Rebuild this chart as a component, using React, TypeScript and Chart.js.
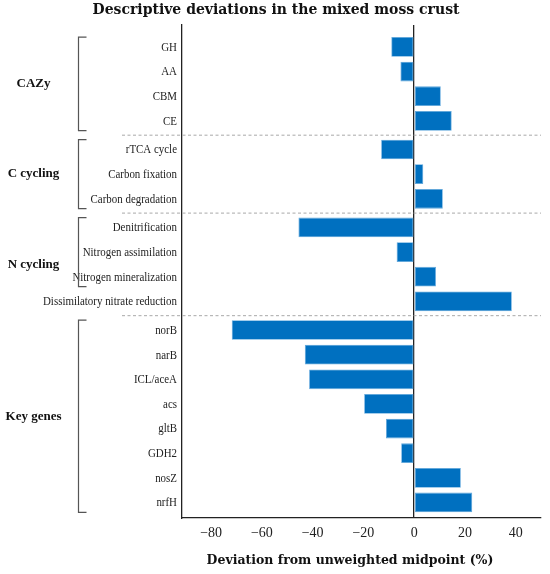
import { useEffect, useRef } from 'react'
import { Chart, registerables } from 'chart.js'

Chart.register(...registerables)

// groups, in order from top to bottom
const groupNames = ['CAZy', 'C cycling', 'N cycling', 'Key genes']
const groupSizes = [4, 3, 4, 8]
// how many rows each bracket covers (N cycling's bracket stops before the long label)
const bracketSizes = [4, 3, 3, 8]

const categories = [
  'GH', 'AA', 'CBM', 'CE',
  'rTCA cycle', 'Carbon fixation', 'Carbon degradation',
  'Denitrification', 'Nitrogen assimilation', 'Nitrogen mineralization', 'Dissimilatory nitrate reduction',
  'norB', 'narB', 'ICL/aceA', 'acs', 'gltB', 'GDH2', 'nosZ', 'nrfH',
]

const deviations = [
  -9.0, -5.4, 10.5, 14.8,
  -13.0, 3.6, 11.3,
  -45.6, -6.9, 8.6, 38.5,
  -71.9, -43.1, -41.4, -19.7, -11.1, -5.1, 18.4, 22.9,
]

const xTicks = [-80, -60, -40, -20, 0, 20, 40]

const GROUP_GAP = 0.163
const BAR_COLOR = '#0070c0'
const INK = '#222222'

// row position on the (linear, reversed) y axis: index plus a small gap per group
const rowGroup: number[] = []
groupSizes.forEach((n, g) => { for (let k = 0; k < n; k++) rowGroup.push(g) })
const rowPos = categories.map((_, i) => i + rowGroup[i] * GROUP_GAP)

const decorPlugin = {
  id: 'decor',
  beforeDatasetsDraw(chart: any) {
    const { ctx, chartArea: { right }, scales: { y } } = chart
    // dashed group separators
    ctx.save()
    ctx.strokeStyle = '#a8a8a8'
    ctx.lineWidth = 1
    ctx.setLineDash([3, 2.5])
    let start = 0
    for (let g = 0; g < groupSizes.length - 1; g++) {
      const last = start + groupSizes[g] - 1
      const yy = (y.getPixelForValue(rowPos[last]) + y.getPixelForValue(rowPos[last + 1])) / 2
      ctx.beginPath(); ctx.moveTo(122, yy); ctx.lineTo(right, yy); ctx.stroke()
      start += groupSizes[g]
    }
    ctx.restore()
  },
  afterDraw(chart: any) {
    const { ctx, width, chartArea: { left }, scales: { y } } = chart
    ctx.save()

    // category labels, in a condensed serif like the original
    ctx.fillStyle = INK
    ctx.font = "13px 'Liberation Serif'"
    ctx.textAlign = 'right'
    ctx.textBaseline = 'middle'
    categories.forEach((name, i) => {
      ctx.save()
      ctx.translate(left - 5, y.getPixelForValue(rowPos[i]) + 0.5)
      ctx.scale(0.84, 1)
      ctx.fillText(name, 0, 0)
      ctx.restore()
    })

    // brackets + group labels
    let start = 0
    groupNames.forEach((name, g) => {
      const first = rowPos[start]
      const lastB = rowPos[start + bracketSizes[g] - 1]
      const lastG = rowPos[start + groupSizes[g] - 1]
      const y0 = y.getPixelForValue(first - 0.4)
      const y1 = y.getPixelForValue(lastB + 0.4)
      ctx.strokeStyle = '#555555'
      ctx.lineWidth = 1.2
      ctx.beginPath()
      ctx.moveTo(86.5, y0); ctx.lineTo(78.5, y0); ctx.lineTo(78.5, y1); ctx.lineTo(86.5, y1)
      ctx.stroke()

      const ym = (y.getPixelForValue(first) + y.getPixelForValue(lastG)) / 2
      ctx.fillStyle = '#111111'
      ctx.font = "bold 13px 'Liberation Serif'"
      ctx.textAlign = 'center'
      ctx.textBaseline = 'middle'
      ctx.fillText(name, 33.5, ym)
      start += groupSizes[g]
    })

    // title and x axis title
    ctx.fillStyle = '#111111'
    ctx.textAlign = 'center'
    ctx.textBaseline = 'middle'
    ctx.font = "bold 14px 'DejaVu Serif'"
    ctx.fillText('Descriptive deviations in the mixed moss crust', width / 2 + 1, 10.5)
    ctx.font = "bold 12.5px 'DejaVu Serif'"
    ctx.fillText('Deviation from unweighted midpoint (%)', 350, 561)
    ctx.restore()
  },
}

export default function App() {
  const canvasRef = useRef<HTMLCanvasElement>(null)
  const chartRef = useRef<Chart | null>(null)

  useEffect(() => {
    if (!canvasRef.current) return
    if (chartRef.current) { chartRef.current.destroy(); chartRef.current = null }

    chartRef.current = new Chart(canvasRef.current, {
      type: 'bar',
      plugins: [decorPlugin],
      data: {
        datasets: [{
          data: deviations.map((v, i) => ({ x: v, y: rowPos[i] })),
          backgroundColor: BAR_COLOR,
          borderColor: '#5ea6dc',
          borderWidth: 0.8,
          borderSkipped: false,
          barPercentage: 0.8,
          categoryPercentage: 1,
        }],
      },
      options: {
        indexAxis: 'y',
        responsive: true,
        maintainAspectRatio: false,
        animation: false,
        layout: { padding: { top: 25, right: 9, bottom: 0, left: 0 } },
        plugins: {
          legend: { display: false },
          tooltip: { enabled: false },
        },
        scales: {
          x: {
            type: 'linear',
            min: -91.5,
            max: 50,
            afterBuildTicks: (s: any) => { s.ticks = xTicks.map(v => ({ value: v })) },
            afterFit: (s: any) => { s.height = 56 },
            grid: {
              drawTicks: false,
              color: (c: any) => (c.tick && c.tick.value === 0 ? INK : 'rgba(0,0,0,0)'),
              lineWidth: 1.3,
            },
            border: { display: true, color: INK, width: 1.3 },
            ticks: {
              color: INK,
              padding: 7,
              font: { family: "'Liberation Serif'", size: 14 },
              callback: (v: any) => (Number(v) < 0 ? '\u2212' + Math.abs(Number(v)) : String(v)),
            },
          },
          y: {
            type: 'linear',
            reverse: true,
            offset: false,
            min: -0.89,
            max: rowPos[rowPos.length - 1] + 0.63,
            afterBuildTicks: (s: any) => { s.ticks = rowPos.map(p => ({ value: p })) },
            afterFit: (s: any) => { s.width = 182 },
            grid: { display: false, drawTicks: false },
            border: { display: true, color: INK, width: 1.3 },
            ticks: { display: false },
          },
        },
      },
    })

    return () => { chartRef.current?.destroy(); chartRef.current = null }
  }, [])

  return (
    <div style={{ position: 'fixed', left: 0, top: 0, width: 550, height: 574, background: '#fff' }}>
      <canvas ref={canvasRef} />
    </div>
  )
}
